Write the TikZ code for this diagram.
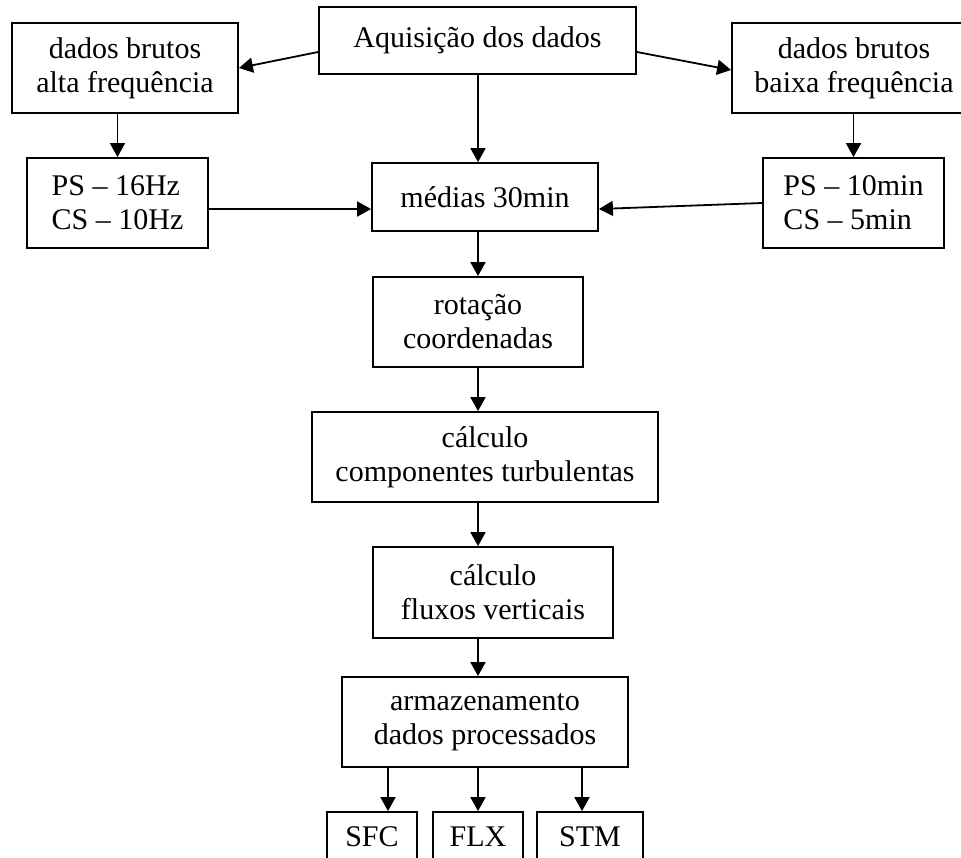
\documentclass[tikz,border=0pt]{standalone}
\usepackage{fontspec}
\setmainfont{Liberation Serif}
\usepackage{tikz}
\usetikzlibrary{arrows.meta}

\begin{document}
\begin{tikzpicture}[x=0.5pt, y=-0.5pt] % 1 unidade = 1 pixel da figura
\tikzstyle{caixa} = [draw, line width=0.9pt, inner sep=0pt, align=center, font=\fontsize{15}{17}\selectfont]
\tikzstyle{seta} = [line width=0.9pt, -{Triangle[length=7pt, width=7.5pt]}]
\useasboundingbox (0,0) rectangle (961,857);
\clip (0,0) rectangle (961,857);
% linha principal
\node[caixa, minimum width=158.5pt, minimum height=33.5pt] (aq) at (477.5, 40.5) {Aquisição dos dados};
\node[caixa, minimum width=113pt, minimum height=45pt] (alta) at (125, 68) {dados brutos\\alta frequência};
\node[caixa, minimum width=122pt, minimum height=45pt] (baixa) at (854, 68) {dados brutos\\baixa frequência};
\node[caixa, minimum width=90.5pt, minimum height=45pt, align=left] (ps1) at (117.5, 203) {PS -- 16Hz\\CS -- 10Hz};
\node[caixa, minimum width=113pt, minimum height=34pt] (medias) at (485, 197) {médias 30min};
\node[caixa, minimum width=90.5pt, minimum height=45pt, align=left] (ps2) at (853.5, 203) {PS -- 10min\\CS -- 5min};
\node[caixa, minimum width=105pt, minimum height=45pt] (rot) at (478, 322) {rotação\\coordenadas};
\node[caixa, minimum width=173pt, minimum height=45pt] (comp) at (485, 457) {cálculo\\componentes turbulentas};
\node[caixa, minimum width=120pt, minimum height=45.5pt] (flux) at (493, 592.5) {cálculo\\fluxos verticais};
\node[caixa, minimum width=143pt, minimum height=45pt] (arm) at (485, 722) {armazenamento\\dados processados};
% arquivos de saida
\node[caixa, minimum width=45pt, minimum height=24.5pt] (sfc) at (372, 836.5) {SFC};
\node[caixa, minimum width=45pt, minimum height=24.5pt] (flx) at (478, 836.5) {FLX};
\node[caixa, minimum width=53pt, minimum height=24.5pt] (stm) at (590, 836.5) {STM};
\coordinate (eixo) at (478, 0);
\coordinate (eixoSFC) at (388, 0);
\coordinate (eixoSTM) at (582, 0);
\foreach \de/\para in {aq/medias, medias/rot, rot/comp, comp/flux, flux/arm, arm/flx}
\draw[seta] (\de.south -| eixo) -- (\para.north -| eixo);
\draw[seta] (arm.south -| eixoSFC) -- (sfc.north -| eixoSFC);
\draw[seta] (arm.south -| eixoSTM) -- (stm.north -| eixoSTM);
\draw[seta] ([yshift=-5.75pt]aq.west) -- (alta.east);
\draw[seta] ([yshift=-5.75pt]aq.east) -- ([yshift=-1pt]baixa.west);
\draw[seta] (alta.south -| ps1.north) -- (ps1.north);
\draw[seta] (baixa.south -| ps2.north) -- (ps2.north);
\draw[seta] ([yshift=-3pt]ps1.east) -- ([yshift=-6pt]medias.west);
\draw[seta] (ps2.west) -- ([yshift=-6pt]medias.east);
\end{tikzpicture}
\end{document}
